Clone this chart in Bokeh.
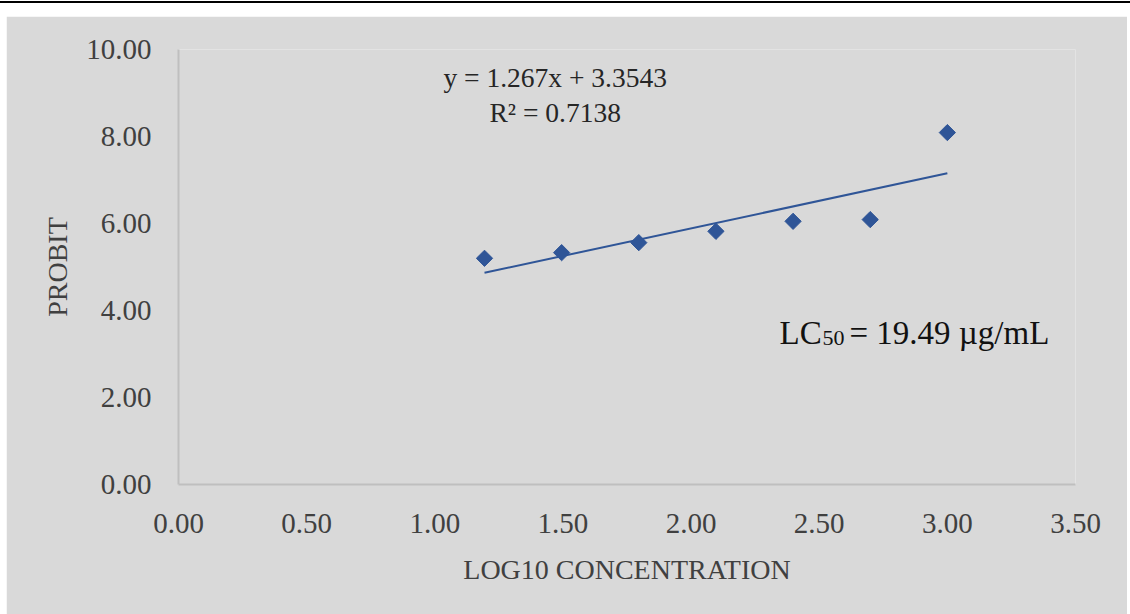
from bokeh.plotting import figure
from bokeh.models import Range1d, FixedTicker, NumeralTickFormatter, Label, Spacer
from bokeh.layouts import column, row
from bokeh.embed import file_html
from bokeh.resources import INLINE

# Data
log_conc = [1.194, 1.495, 1.796, 2.097, 2.398, 2.699, 3.000]
probit = [5.20, 5.33, 5.56, 5.82, 6.05, 6.09, 8.09]
slope = 1.267
intercept = 3.3543
x_ticks = [0.0, 0.5, 1.0, 1.5, 2.0, 2.5, 3.0, 3.5]
y_ticks = [0.0, 2.0, 4.0, 6.0, 8.0, 10.0]
eq_text = "y = 1.267x + 3.3543"
r2_text = "R² = 0.7138"

BG = "#d9d9d9"
BLUE = "#2f5597"
FONT = "Liberation Serif"
TXT = "#404040"

p = figure(width=1121, height=598, output_backend="svg", toolbar_location=None,
           x_range=Range1d(0, 3.5), y_range=Range1d(0, 10),
           min_border_left=172, min_border_right=52, min_border_top=33, min_border_bottom=130)
p.background_fill_color = BG
p.border_fill_color = BG
p.outline_line_color = None
p.grid.visible = False

for ax in (p.xaxis[0], p.yaxis[0]):
    ax.axis_line_color = "#bfbfbf"
    ax.axis_line_width = 2
    ax.major_tick_line_color = None
    ax.minor_tick_line_color = None
    ax.major_tick_out = 0
    ax.major_tick_in = 0
    ax.major_label_text_font = FONT
    ax.major_label_text_font_size = "29px"
    ax.major_label_text_color = TXT
    ax.axis_label_text_font = FONT
    ax.axis_label_text_font_size = "28px"
    ax.axis_label_text_font_style = "normal"
    ax.axis_label_text_color = TXT
    ax.formatter = NumeralTickFormatter(format="0.00")

p.xaxis.ticker = FixedTicker(ticks=x_ticks)
p.yaxis.ticker = FixedTicker(ticks=y_ticks)
p.xaxis.axis_label = "LOG10 CONCENTRATION"
p.yaxis.axis_label = "PROBIT"
p.xaxis.major_label_standoff = 29
p.yaxis.major_label_standoff = 27
p.xaxis.axis_label_standoff = 18
p.yaxis.axis_label_standoff = 10

# Trend line over the data range
x0, x1 = min(log_conc), max(log_conc)
p.line([x0, x1], [slope * x0 + intercept, slope * x1 + intercept],
       line_color=BLUE, line_width=2)

p.scatter(log_conc, probit, marker="square", size=11.5, angle=0.785398,
          fill_color=BLUE, line_color=BLUE)

p.add_layout(Label(x=1.47, y=9.36, text=eq_text, text_font=FONT, text_font_size="27.5px",
                   text_color="#262626", text_align="center", text_baseline="middle"))
p.add_layout(Label(x=1.47, y=8.55, text=r2_text, text_font=FONT, text_font_size="27.5px",
                   text_color="#262626", text_align="center", text_baseline="middle"))

# LC50 annotation
LX, LY = 2.345, 3.48
p.add_layout(Label(x=LX, y=LY, text="LC", text_font=FONT, text_font_size="33px",
                   text_color="#111111", text_align="left", text_baseline="alphabetic"))
p.add_layout(Label(x=LX, y=LY, x_offset=43, y_offset=-5, text="50", text_font=FONT,
                   text_font_size="22px", text_color="#111111", text_align="left",
                   text_baseline="alphabetic"))
p.add_layout(Label(x=LX, y=LY, x_offset=70, text="= 19.49 µg/mL", text_font=FONT,
                   text_font_size="33px", text_color="#111111", text_align="left",
                   text_baseline="alphabetic"))

top_rule = Spacer(width=1130, height=2, styles={"background-color": "#000000"})
layout = column(Spacer(height=1, width=1130), top_rule, Spacer(height=13, width=1130),
                row(Spacer(width=6, height=598), p))
open("out.html", "w").write(file_html(layout, INLINE))
